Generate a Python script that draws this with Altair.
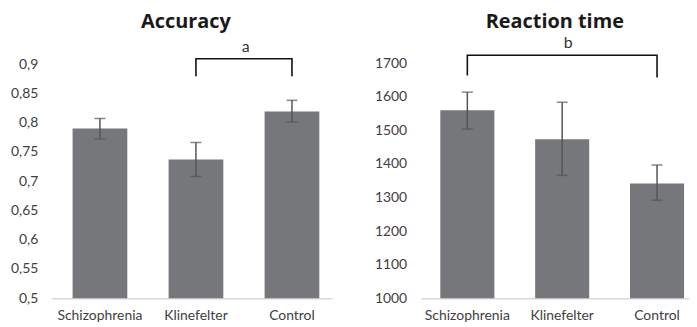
import altair as alt
import pandas as pd

groups = ["Schizophrenia", "Klinefelter", "Control"]

acc_mean = [0.790, 0.737, 0.819]
acc_lo = [0.772, 0.708, 0.801]
acc_hi = [0.807, 0.766, 0.838]

rt_mean = [1560, 1474, 1342]
rt_lo = [1504, 1366, 1292]
rt_hi = [1614, 1584, 1397]

acc_ticks = [0.5, 0.55, 0.6, 0.65, 0.7, 0.75, 0.8, 0.85, 0.9]
rt_ticks = [1000, 1100, 1200, 1300, 1400, 1500, 1600, 1700]

acc_bracket_x = ["Klinefelter", "Klinefelter", "Control", "Control"]
acc_bracket_y = [0.879, 0.909, 0.909, 0.879]
rt_bracket_x = ["Schizophrenia", "Schizophrenia", "Control", "Control"]
rt_bracket_y = [1664, 1724, 1724, 1658]
bracket_order = [0, 1, 2, 3]

acc_sig = {"label": ["a"], "group": ["Klinefelter"], "y": [0.921]}
rt_sig = {"label": ["b"], "group": ["Klinefelter"], "y": [1745]}

BAR = "#76777b"
ERR = "#555555"
FONT = "Lato"


def panel(title, width, mean, lo, hi, ticks, ydomain, fmt, bx, by, sig, xscale, title_dx, text_dx,
          label_expr=None):
    df = pd.DataFrame({"group": groups, "mean": mean, "lo": lo, "hi": hi})
    bdf = pd.DataFrame({"group": bx, "y": by, "o": bracket_order})
    sdf = pd.DataFrame(sig)

    yaxis_kwargs = dict(values=ticks, format=fmt, grid=False, ticks=False, domain=False,
                        labelFont=FONT, labelFontSize=14, labelColor="#404040", labelPadding=14,
                        labelOverlap=False, title=None)
    if label_expr:
        yaxis_kwargs["labelExpr"] = label_expr
    yaxis = alt.Axis(**yaxis_kwargs)
    yscale = alt.Scale(domain=ydomain, nice=False, zero=False)
    xaxis = alt.Axis(title=None, labelAngle=0, ticks=False, domain=True,
                     domainColor="#d9d9d9", domainWidth=1.5,
                     labelFont=FONT, labelFontSize=14, labelColor="#404040",
                     labelPadding=10, grid=False)
    x = alt.X("group:N", sort=groups, scale=xscale, axis=xaxis)

    def Y(field):
        return alt.Y(field, scale=yscale, axis=yaxis, title=None)

    base = alt.Chart(df)
    bars = base.mark_bar(color=BAR, clip=True).encode(x=x, y=Y("mean:Q"))
    err = base.mark_rule(color=ERR, strokeWidth=1.5).encode(
        x=x, y=Y("lo:Q"), y2="hi:Q")
    cap_lo = base.mark_tick(color=ERR, thickness=1.5, size=11).encode(x=x, y=Y("lo:Q"))
    cap_hi = base.mark_tick(color=ERR, thickness=1.5, size=11).encode(x=x, y=Y("hi:Q"))
    bracket = alt.Chart(bdf).mark_line(color="#111111", strokeWidth=1.6).encode(
        x=x, y=Y("y:Q"), order="o:Q")
    text = alt.Chart(sdf).mark_text(font=FONT, fontSize=16, color="#333333",
                                    baseline="alphabetic", dx=text_dx).encode(
        x=x, y=Y("y:Q"), text="label:N")

    return alt.layer(bars, err, cap_lo, cap_hi, bracket, text).properties(
        width=width,
        height=265,
        title=alt.TitleParams(title, font="Open Sans", fontSize=20, fontWeight="bold",
                              color="#1a1a1a", offset=3, dx=title_dx),
    )


left = panel("Accuracy", 282, acc_mean, acc_lo, acc_hi, acc_ticks, [0.5, 0.95], ".2~f",
             acc_bracket_x, acc_bracket_y, acc_sig,
             alt.Scale(paddingInner=0.43, paddingOuter=0.175, align=0.62),
             -6, 50, label_expr="replace(datum.label, '.', ',')")
right = panel("Reaction time", 270, rt_mean, rt_lo, rt_hi, rt_ticks, [1000, 1785], "d",
              rt_bracket_x, rt_bracket_y, rt_sig,
              alt.Scale(paddingInner=0.43, paddingOuter=0.13, align=0.8),
              0, 6)

chart = alt.hconcat(left, right, spacing=42).resolve_scale(
    y="independent", x="independent"
).properties(
    padding={"left": 2, "top": 3, "right": 0, "bottom": 0},
    background="white",
).configure_view(strokeWidth=0, strokeOpacity=0)

chart.save("out.html", embed_options={"renderer": "svg", "actions": False})
